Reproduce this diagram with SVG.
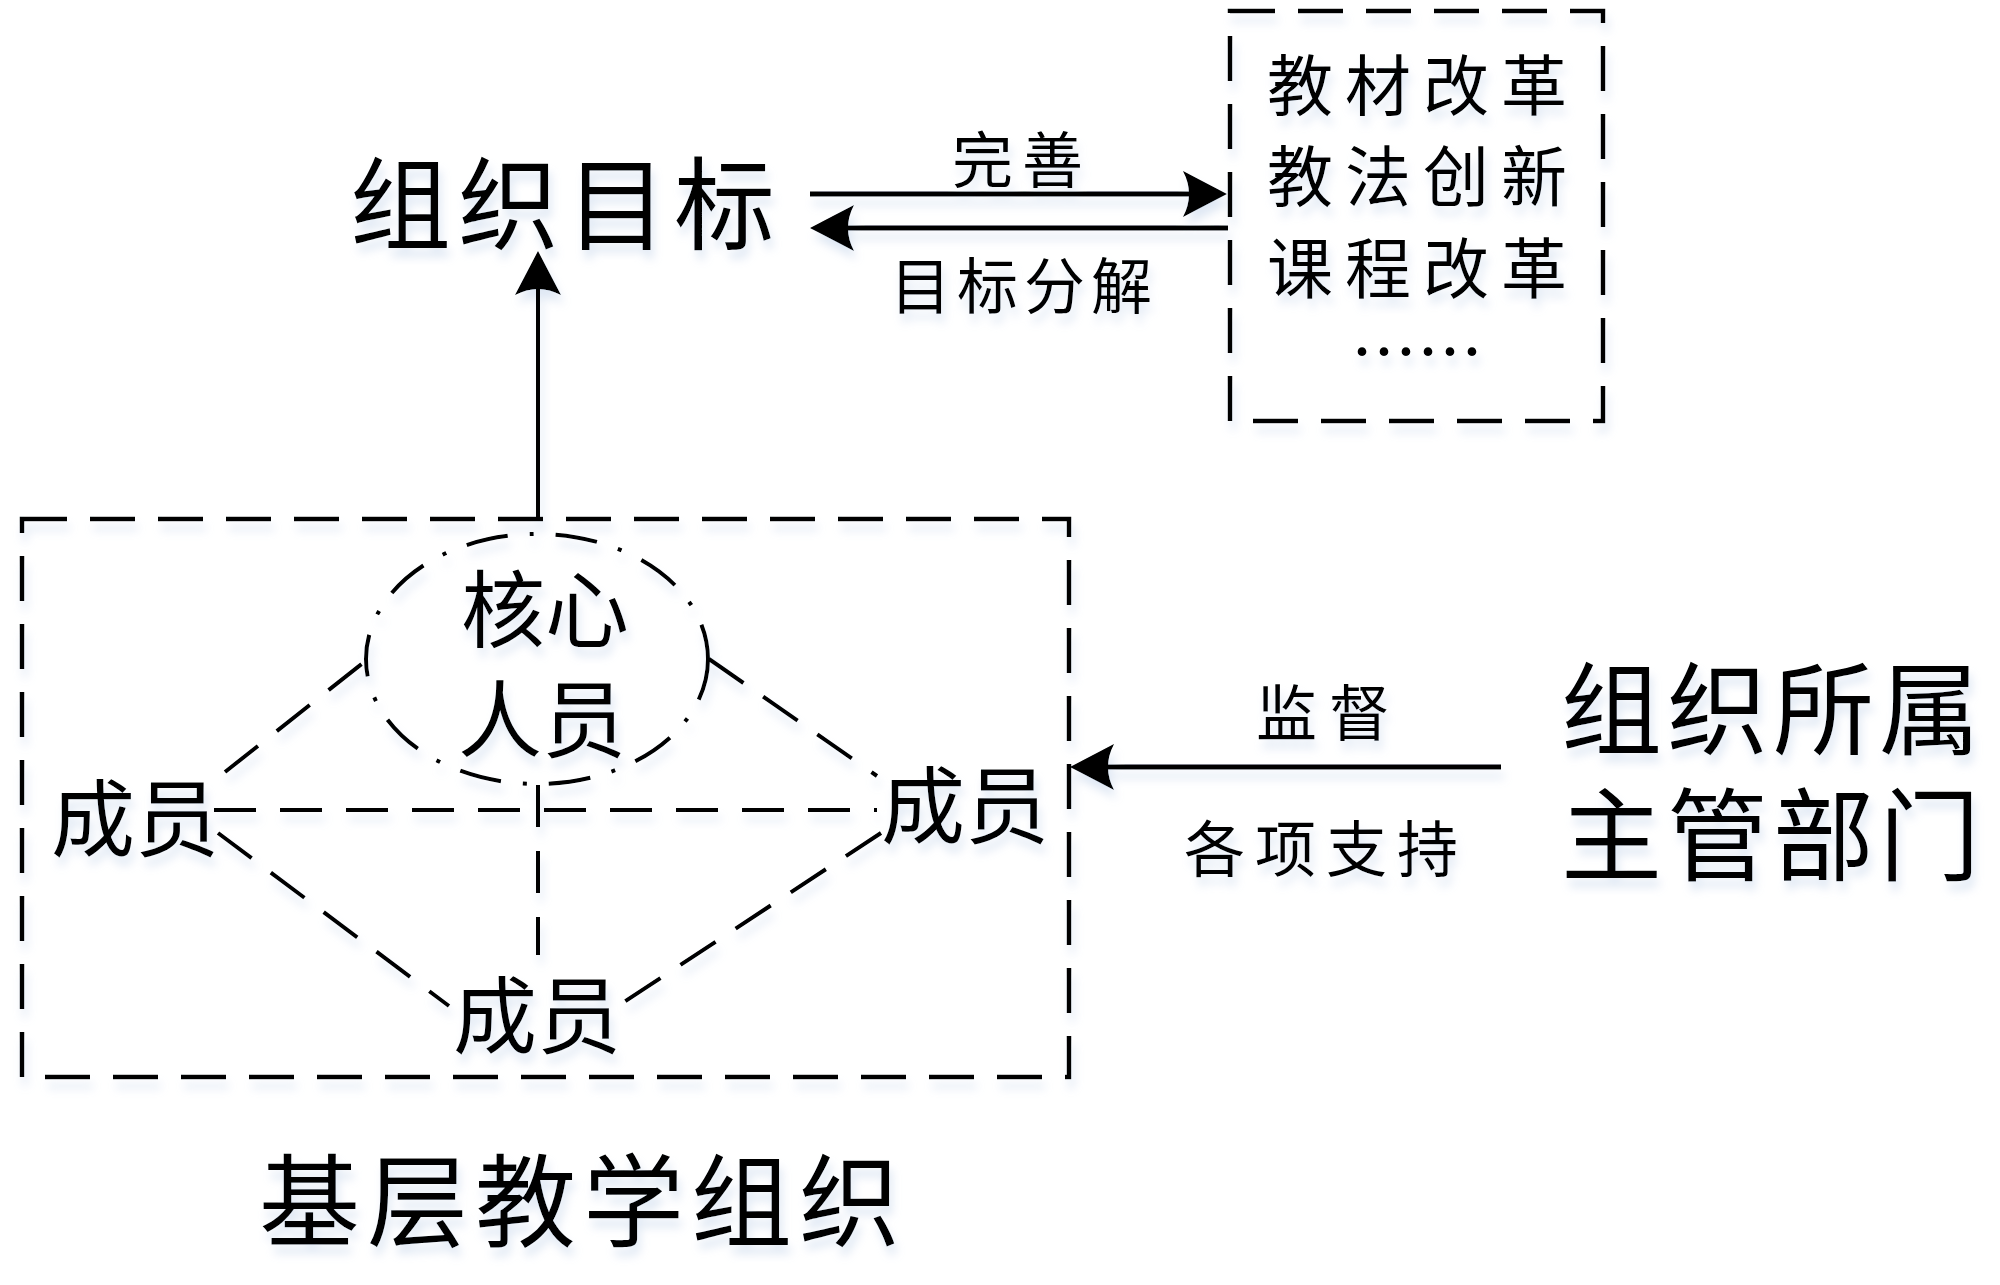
<svg xmlns="http://www.w3.org/2000/svg" width="2000" height="1285" viewBox="0 0 2000 1285">
<style>
text{font-family:"Noto Sans CJK SC","Noto Sans",sans-serif;fill:#000;text-anchor:middle;dominant-baseline:central}
.big{font-size:101px;letter-spacing:7px}
.mid{font-size:84px}
.lbl{font-size:61px;letter-spacing:9px}
.box{font-size:66px;letter-spacing:12px}
.dash{fill:none;stroke:#000;stroke-width:4.5;stroke-dasharray:45 23}
.inner{fill:none;stroke:#000;stroke-width:4;stroke-dasharray:42 24}
.arrow{fill:none;stroke:#000;stroke-width:5;marker-end:url(#ah)}
</style>
<defs>
<marker id="ah" viewBox="0 0 44 46" refX="34" refY="23" markerWidth="44" markerHeight="46" markerUnits="userSpaceOnUse" orient="auto">
<path d="M0,0 L44,23 L0,46 Q12,23 0,0 Z" fill="#000"/>
</marker>
<filter id="sh" x="-10%" y="-10%" width="120%" height="130%">
<feGaussianBlur in="SourceAlpha" stdDeviation="5"/>
<feOffset dx="3" dy="9" result="b"/>
<feFlood flood-color="#b8cce6" flood-opacity="0.45"/>
<feComposite in2="b" operator="in"/>
<feMerge><feMergeNode/><feMergeNode in="SourceGraphic"/></feMerge>
</filter>
</defs>
<rect width="2000" height="1285" fill="#fff"/>
<g filter="url(#sh)">
<g id="goal"><text class="big" x="566" y="198">组织目标</text></g>
<g id="reforms">
<rect class="dash" x="1230" y="11" width="373" height="410"/>
<text class="box"><tspan x="1423" y="81">教材改革</tspan><tspan x="1423" y="172">教法创新</tspan><tspan x="1423" y="264">课程改革</tspan><tspan x="1417" y="348" style="letter-spacing:0">……</tspan></text>
</g>
<g id="org">
<rect class="dash" x="22" y="519" width="1047" height="558"/>
</g>
<g id="core">
<ellipse cx="537" cy="659" rx="171" ry="125" fill="none" stroke="#000" stroke-width="4" stroke-dasharray="42 22 4 22"/>
<text class="mid"><tspan x="545" y="604">核心</tspan><tspan x="542" y="714">人员</tspan></text>
</g>
<g id="m-left"><text class="mid" x="135" y="813">成员</text></g>
<g id="m-right"><text class="mid" x="965" y="800">成员</text></g>
<g id="m-bottom"><text class="mid" x="537" y="1010">成员</text></g>
<g id="dept">
<text class="big" style="letter-spacing:5px"><tspan x="1773" y="703">组织所属</tspan><tspan x="1773" y="829">主管部门</tspan></text>
</g>
<g id="org-label"><text class="big" x="583" y="1195">基层教学组织</text></g>
<g id="connectors">
<path class="arrow" d="M810,194 H1217"/>
<path class="arrow" d="M1228,228 H820"/>
<path class="arrow" d="M538,519 V261" style="stroke-width:4"/>
<path class="arrow" d="M1501,767 H1080"/>
<path class="inner" d="M214,810 H877"/>
<path class="inner" d="M538,785 V955"/>
<path class="inner" d="M225,772 L368,659"/>
<path class="inner" d="M709,659 L877,776"/>
<path class="inner" d="M218,833 L449,1006"/>
<path class="inner" d="M881,833 L618,1006"/>
</g>
<g id="labels">
<text class="lbl" x="1022" y="156">完善</text>
<text class="lbl" x="1024" y="282" style="letter-spacing:6px">目标分解</text>
<text class="lbl" x="1329" y="709" style="letter-spacing:12px">监督</text>
<text class="lbl" x="1326" y="845" style="letter-spacing:10px">各项支持</text>
</g>
</g>
</svg>
